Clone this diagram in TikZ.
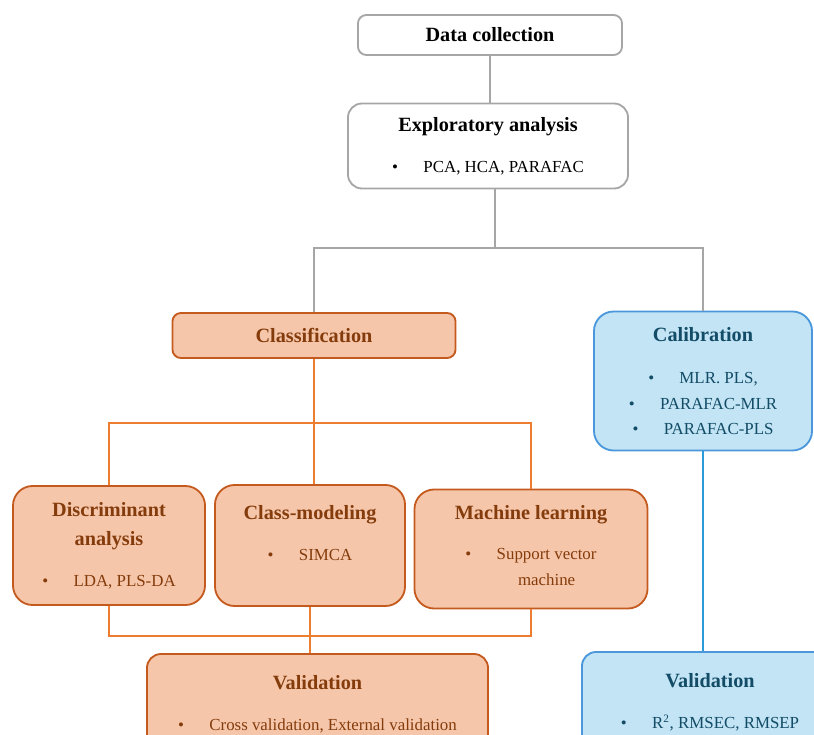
\documentclass[tikz,border=0pt]{standalone}
\usepackage{fontspec}
\setmainfont{Liberation Serif}
\definecolor{graybox}{HTML}{A6A6A6}
\definecolor{orfill}{HTML}{F6C6AA}
\definecolor{ordraw}{HTML}{C55A1E}
\definecolor{ortext}{HTML}{843C0C}
\definecolor{orline}{HTML}{ED7D31}
\definecolor{blfill}{HTML}{C2E4F5}
\definecolor{bldraw}{HTML}{4A97DC}
\definecolor{bltext}{HTML}{124C66}
\definecolor{blline}{HTML}{2A9BD8}
\newcommand{\ttl}[1]{{\bfseries\fontsize{14.4}{17}\selectfont #1}}
\newcommand{\itm}{\textbullet\hspace{1.5em}}

\begin{document}
\begin{tikzpicture}[
  x=0.025cm, y=-0.025cm,
  gbox/.style={draw=graybox, line width=1.3pt, fill=white, rounded corners=6pt,
               align=center, inner sep=0pt, font=\fontsize{12}{18}\selectfont},
  obox/.style={gbox, draw=ordraw, fill=orfill, text=ortext},
  bbox/.style={gbox, draw=bldraw, fill=blfill, text=bltext},
  gline/.style={graybox, line width=1.4pt},
  oline/.style={orline, line width=1.4pt},
  bline/.style={blline, line width=1.4pt}
]
  \clip (0,0) rectangle (814,735);

  \node[gbox, minimum width=6.6cm, minimum height=1cm] (datacol) at (490, 35) {\ttl{Data collection}};

  \node[gbox, rounded corners=10pt, minimum width=7cm, minimum height=2.125cm] (explor) at (488, 146) {
    \ttl{Exploratory analysis}\\[11pt]
    \itm PCA, HCA, PARAFAC
  };

  \node[obox, minimum width=7.075cm, minimum height=1.125cm] (classif) at (314, 335.5) {\ttl{Classification}};

  \node[bbox, rounded corners=14pt, minimum width=5.45cm, minimum height=3.475cm] (calib) at (703, 381) {
    \ttl{Calibration}\\[12pt]
    \itm MLR. PLS,\\
    \itm PARAFAC-MLR\\
    \itm PARAFAC-PLS
  };

  \node[obox, rounded corners=14pt, minimum width=4.8cm, minimum height=2.975cm] (discr) at (109, 545.5) {
    \ttl{Discriminant}\\[3pt]
    \ttl{analysis}\\[11pt]
    \itm LDA, PLS-DA
  };

  \node[obox, rounded corners=14pt, minimum width=4.75cm, minimum height=3.025cm] (classmod) at (310, 545.5) {
    \ttl{Class-modeling}\\[11pt]
    \itm SIMCA\\
    \mbox{}
  };

  \node[obox, rounded corners=14pt, minimum width=5.825cm, minimum height=2.975cm] (machlearn) at (531, 549) {
    \ttl{Machine learning}\\[11pt]
    \itm\begin{tabular}[t]{@{}c@{}}Support vector\\ machine\end{tabular}
  };

  \node[obox, rounded corners=10pt, minimum width=8.525cm, minimum height=2.5cm] (validc) at (317.5, 704) {
    \ttl{Validation}\\[11pt]
    \itm Cross validation, External validation
  };

  \node[bbox, rounded corners=10pt, minimum width=6.4cm, minimum height=2.5cm] (validr) at (710, 702) {
    \ttl{Validation}\\[11pt]
    \itm R\textsuperscript{2}, RMSEC, RMSEP
  };

  % tree connectors
  \coordinate (esplit) at (495, 248);
  \coordinate (csplit) at (314, 423);
  \coordinate (cjoin) at (316, 636);

  \draw[gline] (datacol.south) -- (datacol.south |- explor.north);
  \draw[gline] (explor.south -| esplit) -- (esplit);
  \draw[gline] (classif.north) |- (esplit) -| (calib.north);

  \draw[oline] (classif.south) -- (csplit);
  \draw[oline] (discr.north) |- (csplit) -| (machlearn.north);
  \draw[oline] (csplit) -- (csplit |- classmod.north);
  \draw[oline] (discr.south) |- (cjoin) -| (machlearn.south);
  \draw[oline] (classmod.south) -- (classmod.south |- validc.north);

  \draw[bline] (calib.south) -- (calib.south |- validr.north);
\end{tikzpicture}
\end{document}
